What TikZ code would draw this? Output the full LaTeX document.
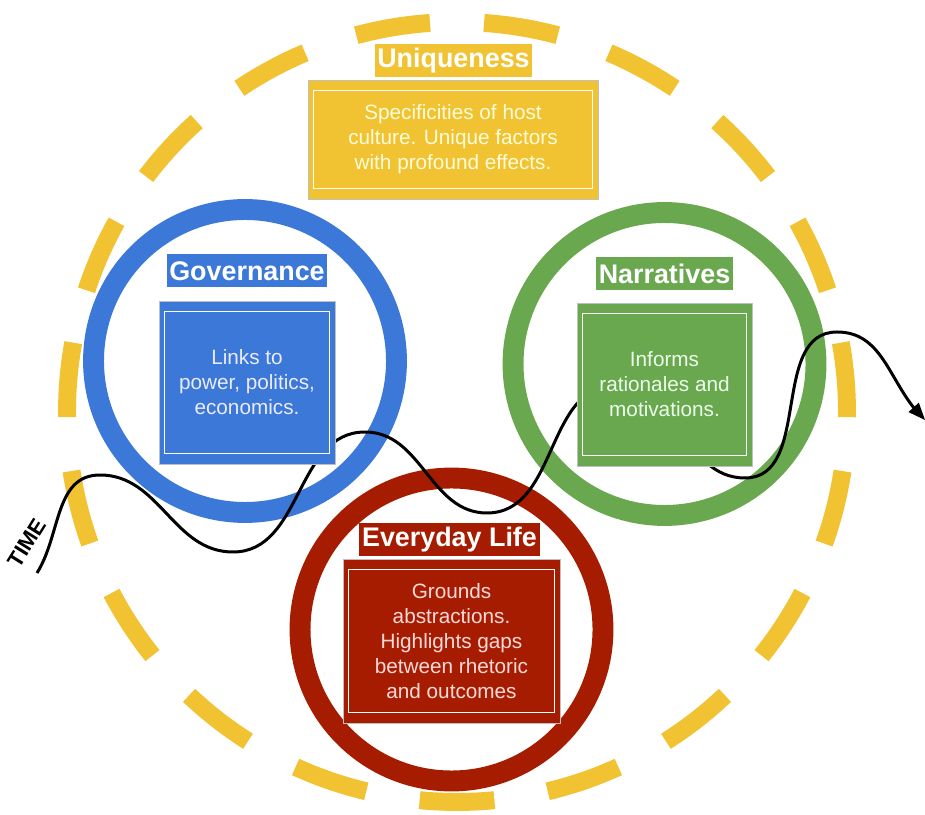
\documentclass[tikz,border=0pt]{standalone}
\usepackage{fontspec}
\setmainfont{Liberation Sans}

\definecolor{uniqyellow}{HTML}{F1C232}
\definecolor{govblue}{HTML}{3C78D8}
\definecolor{narrgreen}{HTML}{6AA84F}
\definecolor{lifered}{HTML}{A61C00}

\begin{document}
\begin{tikzpicture}[
x=0.02cm, y=0.02cm,
dashseg/.style={
draw=uniqyellow,
line width=10.2pt
},
ring/.style={
circle,
line width=11.9pt,
minimum size=6.06cm,
inner sep=0pt
},
card/.style={
rectangle,
draw=black!25,
line width=0.5pt,
align=center,
font=\fontsize{11.8}{14.2}\selectfont
},
headbox/.style={
rectangle,
inner xsep=1.5pt,
inner ysep=0pt,
minimum height=0.66cm,
text=white,
font=\fontsize{15.3}{18}\selectfont\bfseries
},
timeline/.style={
line width=1.7pt
}
]

\useasboundingbox (0,0) rectangle (925,814);

% broken outer ring, 19 arcs
\coordinate (hub) at (457,402);
\foreach \k in {0,...,18}
  \draw[dashseg] (hub) ++(264.5+\k*18.947:390)
    arc[start angle=264.5+\k*18.947, delta angle=11, radius=390];

\node[ring, draw=govblue] (govring) at (245,453) {};
\node[ring, draw=narrgreen] (narrring) at (664.5,450) {};
\node[ring, draw=lifered] (lifering) at (451.5,184.5) {};

% time line winding through the circles
\coordinate (t0) at (37,241);
\coordinate (tip) at (925,394);
\draw[timeline] (t0) to[out=58,in=180] (100,339)
  to[out=0,in=180] (233,262)
  to[out=0,in=180] (365,382)
  to[out=0,in=180] (487,301)
  to[out=0,in=180] (616,429)
  to[out=0,in=180] (745,336)
  to[out=0,in=180] (837,482)
  to[out=0,in=132] ([shift={(-6,6)}]tip);
\fill[shift={(tip)}, rotate=-48] (0,0) -- (-17,7) -- (-17,-7) -- cycle;

\node[rotate=58, font=\fontsize{12.5}{14}\selectfont\bfseries] (time) at (27,271) {TIME};

\node[card, fill=uniqyellow, text=yellow!15, minimum width=5.8cm, minimum height=2.38cm] (uniq) at (453,674.5)
{Specificities of host\\culture. Unique factors\\with profound effects.};

\node[card, fill=govblue, text=blue!8, minimum width=3.52cm, minimum height=3.26cm] (gov) at (247,431.5)
{Links to\\power, politics,\\economics.};

\node[card, fill=narrgreen, text=green!8, minimum width=3.5cm, minimum height=3.26cm] (narr) at (664.5,429.5)
{Informs\\rationales and\\motivations.};

\node[card, fill=lifered, text=red!15, minimum width=4.34cm, minimum height=3.28cm] (life) at (451.5,173)
{Grounds\\abstractions.\\Highlights gaps\\between rhetoric\\and outcomes};

% thin inner frames
\foreach \b in {uniq,gov,narr,life}
  \draw[white, line width=0.8pt] ([shift={(6,-11)}]\b.north west) rectangle ([shift={(-6,11)}]\b.south east);

\node[headbox, fill=uniqyellow] (uniqhead) at (453.5,753) {Uniqueness};
\node[headbox, fill=govblue] (govhead) at (247,543) {Governance};
\node[headbox, fill=narrgreen] (narrhead) at (664.5,540.5) {Narratives};
\node[headbox, fill=lifered] (lifehead) at (449.5,274.5) {Everyday Life};

\end{tikzpicture}
\end{document}
